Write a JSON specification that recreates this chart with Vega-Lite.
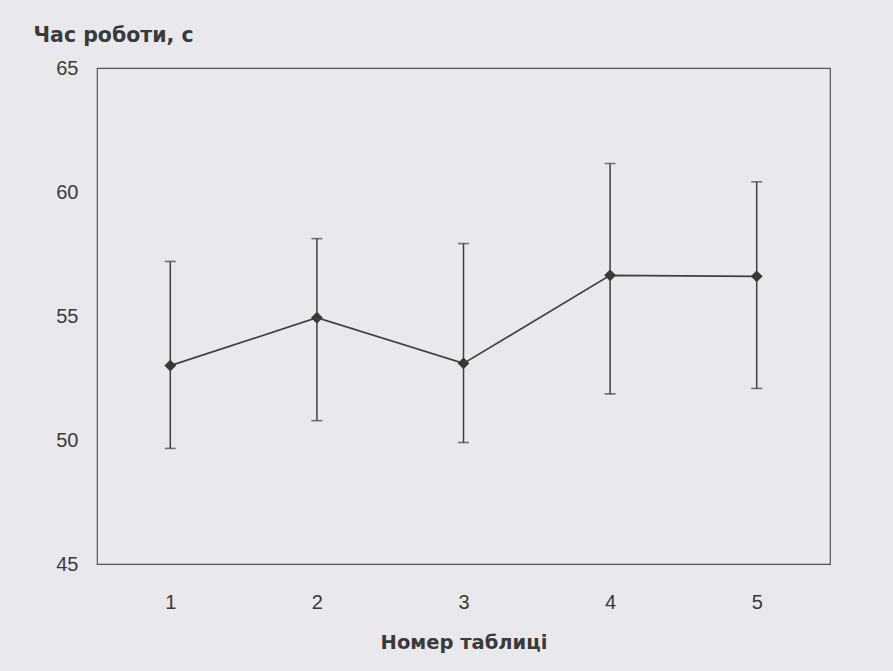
{
  "$schema": "https://vega.github.io/schema/vega-lite/v6.json",
  "width": 733,
  "height": 496,
  "autosize": {"type": "none"},
  "padding": {"left": 97, "top": 68, "right": 63, "bottom": 107},
  "background": "#e9e9ed",
  "config": {
    "view": {"stroke": "#555555", "strokeWidth": 1.2},
    "font": "Liberation Sans",
    "axis": {"labelColor": "#3a3a3a", "titleColor": "#3a3a3a", "labelFont": "Liberation Sans", "titleFont": "DejaVu Sans"}
  },
  "data": {
    "values": [
      {"table": 1, "time": 53.0, "low": 49.66, "high": 57.2},
      {"table": 2, "time": 54.93, "low": 50.78, "high": 58.12},
      {"table": 3, "time": 53.09, "low": 49.9, "high": 57.92},
      {"table": 4, "time": 56.64, "low": 51.86, "high": 61.15},
      {"table": 5, "time": 56.6, "low": 52.08, "high": 60.41}
    ]
  },
  "encoding": {
    "x": {
      "field": "table",
      "type": "quantitative",
      "scale": {"domain": [0.5, 5.5], "nice": false, "zero": false},
      "axis": {
        "values": [1, 2, 3, 4, 5],
        "title": "Номер таблиці",
        "titleFontSize": 19.5,
        "titleFontWeight": "bold",
        "titleBaseline": "alphabetic",
        "titleY": 84,
        "labelFontSize": 20,
        "labelPadding": 28,
        "ticks": false,
        "domain": false,
        "grid": false,
        "labelFontWeight": "normal"
      }
    }
  },
  "layer": [
    {
      "mark": {"type": "rule", "color": "#404040", "strokeWidth": 1.5},
      "encoding": {
        "y": {
          "field": "low",
          "type": "quantitative",
          "scale": {"domain": [45, 65], "nice": false, "zero": false},
          "axis": {
            "values": [45, 50, 55, 60, 65],
            "title": "Час роботи, с",
            "titleAngle": 0,
            "titleAlign": "left",
            "titleBaseline": "alphabetic",
            "titleX": -64,
            "titleY": -27,
            "titleFontSize": 20.5,
            "titleFontWeight": "bold",
            "labelFontSize": 20,
            "labelPadding": 19,
            "ticks": false,
            "domain": false,
            "grid": false
          }
        },
        "y2": {"field": "high"}
      }
    },
    {
      "mark": {"type": "tick", "color": "#404040", "orient": "horizontal", "size": 11, "thickness": 1.6},
      "encoding": {"y": {"field": "low", "type": "quantitative"}}
    },
    {
      "mark": {"type": "tick", "color": "#404040", "orient": "horizontal", "size": 11, "thickness": 1.6},
      "encoding": {"y": {"field": "high", "type": "quantitative"}}
    },
    {
      "mark": {"type": "line", "color": "#404040", "strokeWidth": 1.7},
      "encoding": {"y": {"field": "time", "type": "quantitative"}}
    },
    {
      "mark": {"type": "point", "shape": "diamond", "filled": true, "color": "#383838", "size": 140, "opacity": 1},
      "encoding": {"y": {"field": "time", "type": "quantitative"}}
    }
  ]
}
